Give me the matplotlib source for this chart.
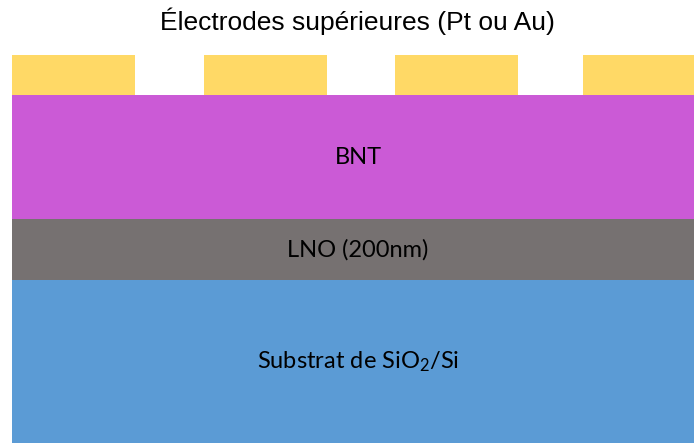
import matplotlib
matplotlib.use('Agg')
import matplotlib.pyplot as plt
from matplotlib.patches import Rectangle

plt.rcParams['mathtext.fontset'] = 'custom'
plt.rcParams['mathtext.rm'] = 'Lato'
plt.rcParams['mathtext.it'] = 'Lato'

# layers: name, top, bottom (pixel units of the drawing)
layer_names = ['BNT', 'LNO (200nm)', 'Substrat de SiO$_2$/Si']
layer_tops = [95, 219, 280]
layer_bottoms = [219, 280, 443]
layer_colors = ['#CB5AD6', '#767171', '#5B9BD5']

# top electrodes
electrode_left = [12, 204, 395, 583]
electrode_right = [135, 327, 518, 694]
electrode_top = 55
electrode_bottom = 95
electrode_color = '#FFD966'

title = 'Électrodes supérieures (Pt ou Au)'

fig = plt.figure(figsize=(6.94, 4.43), dpi=100)
ax = fig.add_axes([0, 0, 1, 1])
ax.set_xlim(0, 694)
ax.set_ylim(443, 0)
ax.set_axis_off()

x0, x1 = 12, 694
for name, top, bot, col in zip(layer_names, layer_tops, layer_bottoms, layer_colors):
    ax.add_patch(Rectangle((x0, top), x1 - x0, bot - top, color=col, lw=0))
    ax.text(358, (top + bot) / 2, name, ha='center', va='center',
            fontsize=17, family='Lato', color='black')

for l, r in zip(electrode_left, electrode_right):
    ax.add_patch(Rectangle((l, electrode_top), r - l, electrode_bottom - electrode_top,
                           color=electrode_color, lw=0))

ax.text(357, 21, title, ha='center', va='center', fontsize=19,
        family='Liberation Sans', color='black')

fig.savefig('out.png', dpi=100)
